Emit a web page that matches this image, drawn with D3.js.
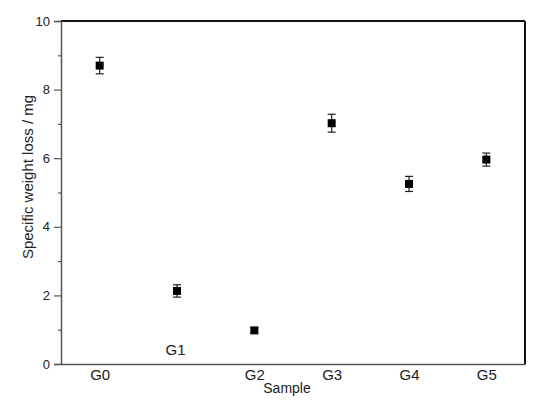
<!DOCTYPE html>
<html>
<head>
<meta charset="utf-8">
<script src="https://cdn.jsdelivr.net/npm/d3@7"></script>
<style>
  body { margin: 0; background: #fff; }
  svg { display: block; font-family: "Liberation Sans", Arial, sans-serif; }
</style>
</head>
<body>
<svg id="chart" width="550" height="411"></svg>
<script>
// sample names and measured values
const samples = ["G0", "G1", "G2", "G3", "G4", "G5"];
const lossMean = [8.7, 2.13, 0.98, 7.02, 5.25, 5.96];
const lossErr = [0.24, 0.18, 0.08, 0.26, 0.22, 0.19];
const yMajorTicks = [0, 2, 4, 6, 8, 10];
const yMinorTicks = [1, 3, 5, 7, 9];

const data = samples.map((s, i) => ({ name: s, mean: lossMean[i], err: lossErr[i] }));

const margin = { top: 21, right: 25, bottom: 47, left: 61 },
  width = 550 - margin.left - margin.right,
  height = 411 - margin.top - margin.bottom;

const svg = d3.select("#chart")
  .append("g")
  .attr("transform", "translate(" + margin.left + "," + margin.top + ")");

const x = d3.scalePoint()
  .domain(samples)
  .range([0, width])
  .padding(0.5);

const y = d3.scaleLinear()
  .domain([0, 10])
  .range([height, 0]);

// frame: top and right borders
svg.append("line")
  .attr("x1", 0).attr("x2", width).attr("y1", 0).attr("y2", 0)
  .attr("stroke", "#111").attr("stroke-width", 2);
svg.append("line")
  .attr("x1", width).attr("x2", width).attr("y1", 0).attr("y2", height)
  .attr("stroke", "#111").attr("stroke-width", 2);

// y axis, major ticks with labels
const yAxis = svg.append("g")
  .call(d3.axisLeft(y).tickValues(yMajorTicks).tickSize(7).tickPadding(4).tickFormat(d3.format("d")));
yAxis.select(".domain").attr("stroke", "#555").attr("stroke-width", 1.5);
yAxis.selectAll(".tick line").attr("stroke", "#555").attr("stroke-width", 1.2);
yAxis.selectAll(".tick text").attr("fill", "#222").style("font-size", "13px")
  .style("font-family", "'Liberation Sans', Arial, sans-serif");

// minor ticks
svg.append("g")
  .call(d3.axisLeft(y).tickValues(yMinorTicks).tickSize(3).tickFormat(""))
  .call(g => g.select(".domain").remove())
  .selectAll(".tick line").attr("stroke", "#555").attr("stroke-width", 1.2);

// x axis, labels only
const xAxis = svg.append("g")
  .attr("transform", "translate(0," + height + ")")
  .call(d3.axisBottom(x).tickSize(0).tickPadding(5));
xAxis.select(".domain").attr("stroke", "#555").attr("stroke-width", 1.5);
xAxis.selectAll(".tick text").attr("fill", "#222").style("font-size", "15px")
  .style("font-family", "'Liberation Sans', Arial, sans-serif");
// G1 label sits above the axis in the original
xAxis.selectAll(".tick text")
  .filter(d => d === "G1")
  .attr("y", -20)
  .attr("dx", -2);

// axis titles
svg.append("text")
  .attr("x", width / 2 - 6)
  .attr("y", height + 29)
  .attr("text-anchor", "middle")
  .style("font-size", "14px")
  .attr("fill", "#222")
  .text("Sample");

svg.append("text")
  .attr("transform", "rotate(-90)")
  .attr("x", -(177 - margin.top))
  .attr("y", -28)
  .attr("text-anchor", "middle")
  .style("font-size", "15px")
  .attr("fill", "#222")
  .text("Specific weight loss / mg");

// error bars
const eb = svg.append("g").selectAll("g")
  .data(data)
  .enter()
  .append("g")
  .attr("stroke", "#222")
  .attr("stroke-width", 1.2);

eb.append("line")
  .attr("x1", d => x(d.name)).attr("x2", d => x(d.name))
  .attr("y1", d => y(d.mean + d.err)).attr("y2", d => y(d.mean - d.err));
eb.append("line")
  .attr("x1", d => x(d.name) - 4).attr("x2", d => x(d.name) + 4)
  .attr("y1", d => y(d.mean + d.err)).attr("y2", d => y(d.mean + d.err));
eb.append("line")
  .attr("x1", d => x(d.name) - 4).attr("x2", d => x(d.name) + 4)
  .attr("y1", d => y(d.mean - d.err)).attr("y2", d => y(d.mean - d.err));

// square markers
svg.append("g")
  .selectAll("rect")
  .data(data)
  .enter()
  .append("rect")
  .attr("x", d => x(d.name) - 4)
  .attr("y", d => y(d.mean) - 4)
  .attr("width", 8)
  .attr("height", 8)
  .attr("fill", "#000");
</script>
</body>
</html>
